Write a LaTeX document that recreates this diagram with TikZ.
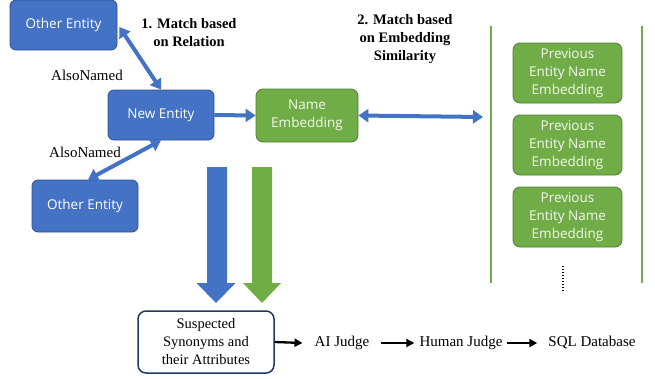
\documentclass[tikz,border=0pt]{standalone}
\usepackage{fontspec}
\setmainfont{Liberation Serif}
\newfontfamily\boxfont{Open Sans}
\usetikzlibrary{arrows.meta,calc}
\definecolor{oblue}{HTML}{4472C4}
\definecolor{obluedk}{HTML}{2F528F}
\definecolor{ogreen}{HTML}{70AD47}
\definecolor{ogreendk}{HTML}{507E32}
\definecolor{navy}{HTML}{1F3864}
\tikzset{
  bluebox/.style={draw=obluedk, fill=oblue, rounded corners=6pt, line width=0.8pt,
    text=white, font=\boxfont\fontsize{13.5}{16}\selectfont, align=center, inner sep=2pt},
  greenbox/.style={draw=ogreendk, fill=ogreen, rounded corners=7pt, line width=0.8pt,
    text=white!92!ogreen, font=\boxfont\fontsize{13.5}{18}\selectfont, align=center, inner sep=2pt},
  bluearrow/.style={draw=oblue, line width=4pt, {Triangle[length=10pt,width=13pt]}-{Triangle[length=10pt,width=13pt]}},
  bluesingle/.style={draw=oblue, line width=4pt, -{Triangle[length=10pt,width=13pt]}},
  lbl/.style={font=\fontsize{15}{18}\selectfont, align=center, inner sep=0pt},
  boldlbl/.style={font=\bfseries\fontsize{14.5}{18}\selectfont, align=center, inner sep=0pt},
  stepflow/.style={draw=black, line width=2.3pt, -{Triangle[length=8pt,width=8pt]}},
  sepline/.style={draw=ogreen, line width=2.8pt},
}
\begin{document}
\begin{tikzpicture}[x=1pt,y=-1pt]
\useasboundingbox (0,0) rectangle (655,378);
\fill[white] (0,0) rectangle (655,378);

% blue entity boxes
\node[bluebox, minimum width=107pt, minimum height=50pt] (o1) at (63.5,25) {Other Entity};
\node[bluebox, minimum width=106pt, minimum height=50pt] (ne) at (161,115) {New Entity};
\node[bluebox, minimum width=106pt, minimum height=52pt] (o2) at (85,206) {Other Entity};

% name embedding
\node[greenbox, minimum width=102pt, minimum height=53pt] (emb) at (307,115.5) {Name\\Embedding};

% previous embeddings
\node[greenbox, minimum width=109pt, minimum height=60pt] (p1) at (567.5,73) {Previous\\Entity Name\\Embedding};
\node[greenbox, minimum width=109pt, minimum height=60pt] (p2) at (567.5,145) {Previous\\Entity Name\\Embedding};
\node[greenbox, minimum width=109pt, minimum height=60pt] (p3) at (567.5,217) {Previous\\Entity Name\\Embedding};

% separator lines
\coordinate (l1t) at (491,26);
\coordinate (l1b) at (491,283);
\coordinate (l2t) at (642,26);
\coordinate (l2b) at (642,283);
\draw[sepline] (l1t) -- (l1b);
\draw[sepline] (l2t) -- (l2b);

% dots
\coordinate (dt) at (563,266);
\coordinate (db) at (563,293);
\draw[black, line width=1.1pt, dash pattern=on 1pt off 2pt] (dt) -- (db);

% labels
\node[boldlbl] (m1) at (189,33) {1. Match based\\on Relation};
\node[boldlbl] (m2) at (405,39) {2. Match based\\on Embedding\\Similarity};
\node[lbl] (a1) at (87,75) {AlsoNamed};
\node[lbl] (a2) at (85,152) {AlsoNamed};

% connectors
\draw[bluearrow] ($(o1.east)+(2,2)$) -- (ne.north);
\draw[bluearrow] (ne.south) -- ($(o2.north)+(3,0)$);
\draw[bluesingle] (ne.east) -- (emb.west);
\coordinate (target) at (483,117);
\draw[bluearrow] (emb.east) -- (target);

% suspected box
\node[draw=navy, line width=1.5pt, rounded corners=8pt, fill=white, minimum width=136pt, minimum height=62pt,
  align=center, font=\fontsize{14.5}{18}\selectfont, inner sep=2pt] (sus) at (206,342) {Suspected\\Synonyms and\\their Attributes};

% big arrows
\fill[oblue] (207,167) -- (227,167) -- (227,283) -- (235.5,283) -- (216,303) -- (196.5,283) -- (207,283) -- cycle;
\fill[ogreen] (252,167) -- (272,167) -- (272,283) -- (281,283) -- (262,303) -- (243,283) -- (252,283) -- cycle;

% pipeline
\node[lbl] (ai) at (342,343) {AI Judge};
\node[lbl] (hj) at (461,343) {Human Judge};
\node[lbl] (sql) at (592,343) {SQL Database};
\draw[stepflow] (sus.east) -- ([xshift=-12pt]ai.west);
\draw[stepflow] ([xshift=12pt]ai.east) -- ([xshift=-5pt]hj.west);
\draw[stepflow] ([xshift=4pt]hj.east) -- ([xshift=-11pt]sql.west);
\end{tikzpicture}
\end{document}
